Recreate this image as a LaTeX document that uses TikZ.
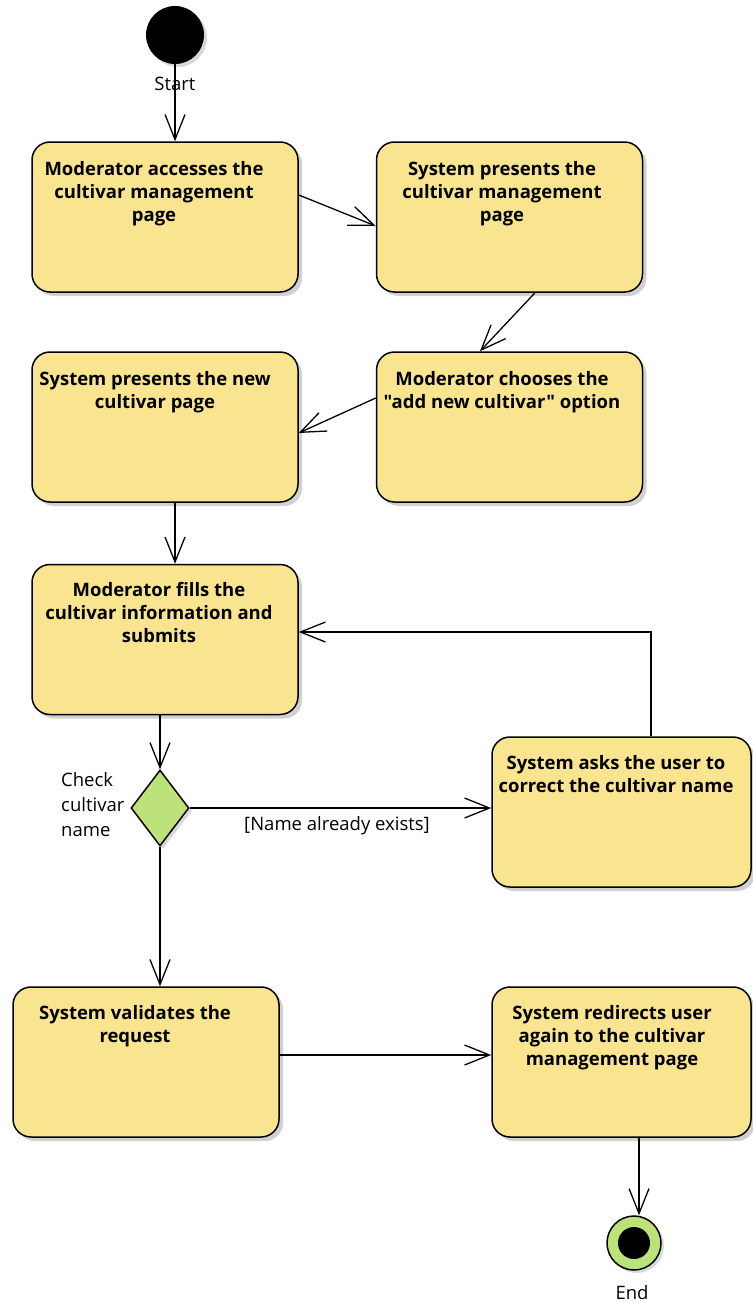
\documentclass[tikz,border=0pt]{standalone}
\usepackage{fontspec}
\setmainfont{Open Sans}[Ligatures=TeXOff]
\usetikzlibrary{arrows.meta,shapes.geometric,shadows}
\definecolor{actyellow}{RGB}{249,229,143}
\definecolor{actgreen}{RGB}{190,226,122}
\begin{document}
\begin{tikzpicture}[x=1pt,y=-1pt,
  flow/.style={draw, line width=1.3pt, -{Straight Barb[length=25pt,width=20pt,line width=1.3pt]}},
  actbox/.style={draw, line width=1.5pt, fill=actyellow, rounded corners=18pt,
    minimum width=266pt, minimum height=150pt, inner sep=0pt,
    drop shadow={shadow xshift=4pt, shadow yshift=-4pt, fill=black!18, opacity=1}},
  boxtext/.style={font=\fontsize{18.5}{23}\selectfont\bfseries, align=center, anchor=north, inner sep=0pt},
  plain/.style={font=\fontsize{18.5}{25}\selectfont, inner sep=0pt}]
\useasboundingbox (0,0) rectangle (752,1303);

% start node
\node[circle, fill=black, minimum size=58pt, inner sep=0pt,
  drop shadow={shadow xshift=3pt, shadow yshift=-3pt, fill=black!15, opacity=1}] (start) at (175,35) {};

% activities
\node[actbox] (b1) at (165,217) {};
\node[boxtext] (t1) at (154,161) {Moderator accesses the\\cultivar management\\page};
\node[actbox] (b2) at (509.5,217) {};
\node[boxtext] (t2) at (502,161) {System presents the\\cultivar management\\page};
\node[actbox] (b3) at (165,427) {};
\node[boxtext] (t3) at (155,371) {System presents the new\\cultivar page};
\node[actbox] (b4) at (509.5,427) {};
\node[boxtext] (t4) at (502,371) {Moderator chooses the\\"add new cultivar" option};
\node[actbox] (b5) at (165,639.5) {};
\node[boxtext] (t5) at (159,582) {Moderator fills the\\cultivar information and\\submits};
\node[actbox, minimum width=259pt] (b6) at (621.5,812) {};
\node[boxtext] (t6) at (616,755) {System asks the user to\\correct the cultivar name};
\node[actbox] (b7) at (146,1062) {};
\node[boxtext] (t7) at (135,1005) {System validates the\\request};
\node[actbox, minimum width=259pt] (b8) at (621.5,1062) {};
\node[boxtext] (t8) at (612,1005) {System redirects user\\again to the cultivar\\management page};

% decision
\node[diamond, draw, line width=1.5pt, fill=actgreen, minimum width=58pt, minimum height=76pt, inner sep=0pt,
  drop shadow={shadow xshift=3pt, shadow yshift=-3pt, fill=black!15, opacity=1}] (d) at (160,808) {};
\node[plain, align=left, anchor=west] (dl) at (61,805) {Check\\cultivar\\name};

% end node
\node[circle, draw, line width=1.5pt, fill=actgreen, minimum size=54pt, inner sep=0pt,
  drop shadow={shadow xshift=3pt, shadow yshift=-3pt, fill=black!15, opacity=1}] (e) at (634,1243) {};
\node[circle, fill=black, minimum size=32pt, inner sep=0pt] (ei) at (e) {};

% control flows
\draw[flow] (start) -- (b1.north -| start);
\node[plain] (sl) at (175,84) {Start};
\draw[flow] ([yshift=22pt]b1.east) -- ([yshift=-9pt]b2.west);
\draw[flow] ([xshift=25.5pt]b2.south) -- ([xshift=-29.5pt]b4.north);
\draw[flow] ([yshift=29pt]b4.west) -- ([yshift=-6pt]b3.east);
\draw[flow] ([xshift=10pt]b3.south) -- ([xshift=10pt]b5.north);
\draw[flow] ([xshift=-5pt]b5.south) -- (d.north);
\draw[flow] (d.east) -- (d.east -| b6.west);
\node[plain] (gl) at (337,826) {[Name already exists]};
\draw[flow] ([xshift=29.5pt]b6.north) |- ([yshift=7.5pt]b5.east);
\draw[flow] (d.south) -- (d.south |- b7.north);
\draw[flow] ([yshift=7pt]b7.east) -- ([yshift=7pt]b8.west);
\draw[flow] (b8.south -| 639,0) -- (e.north -| 639,0);
\node[plain] (el) at (632,1293) {End};
\end{tikzpicture}
\end{document}
